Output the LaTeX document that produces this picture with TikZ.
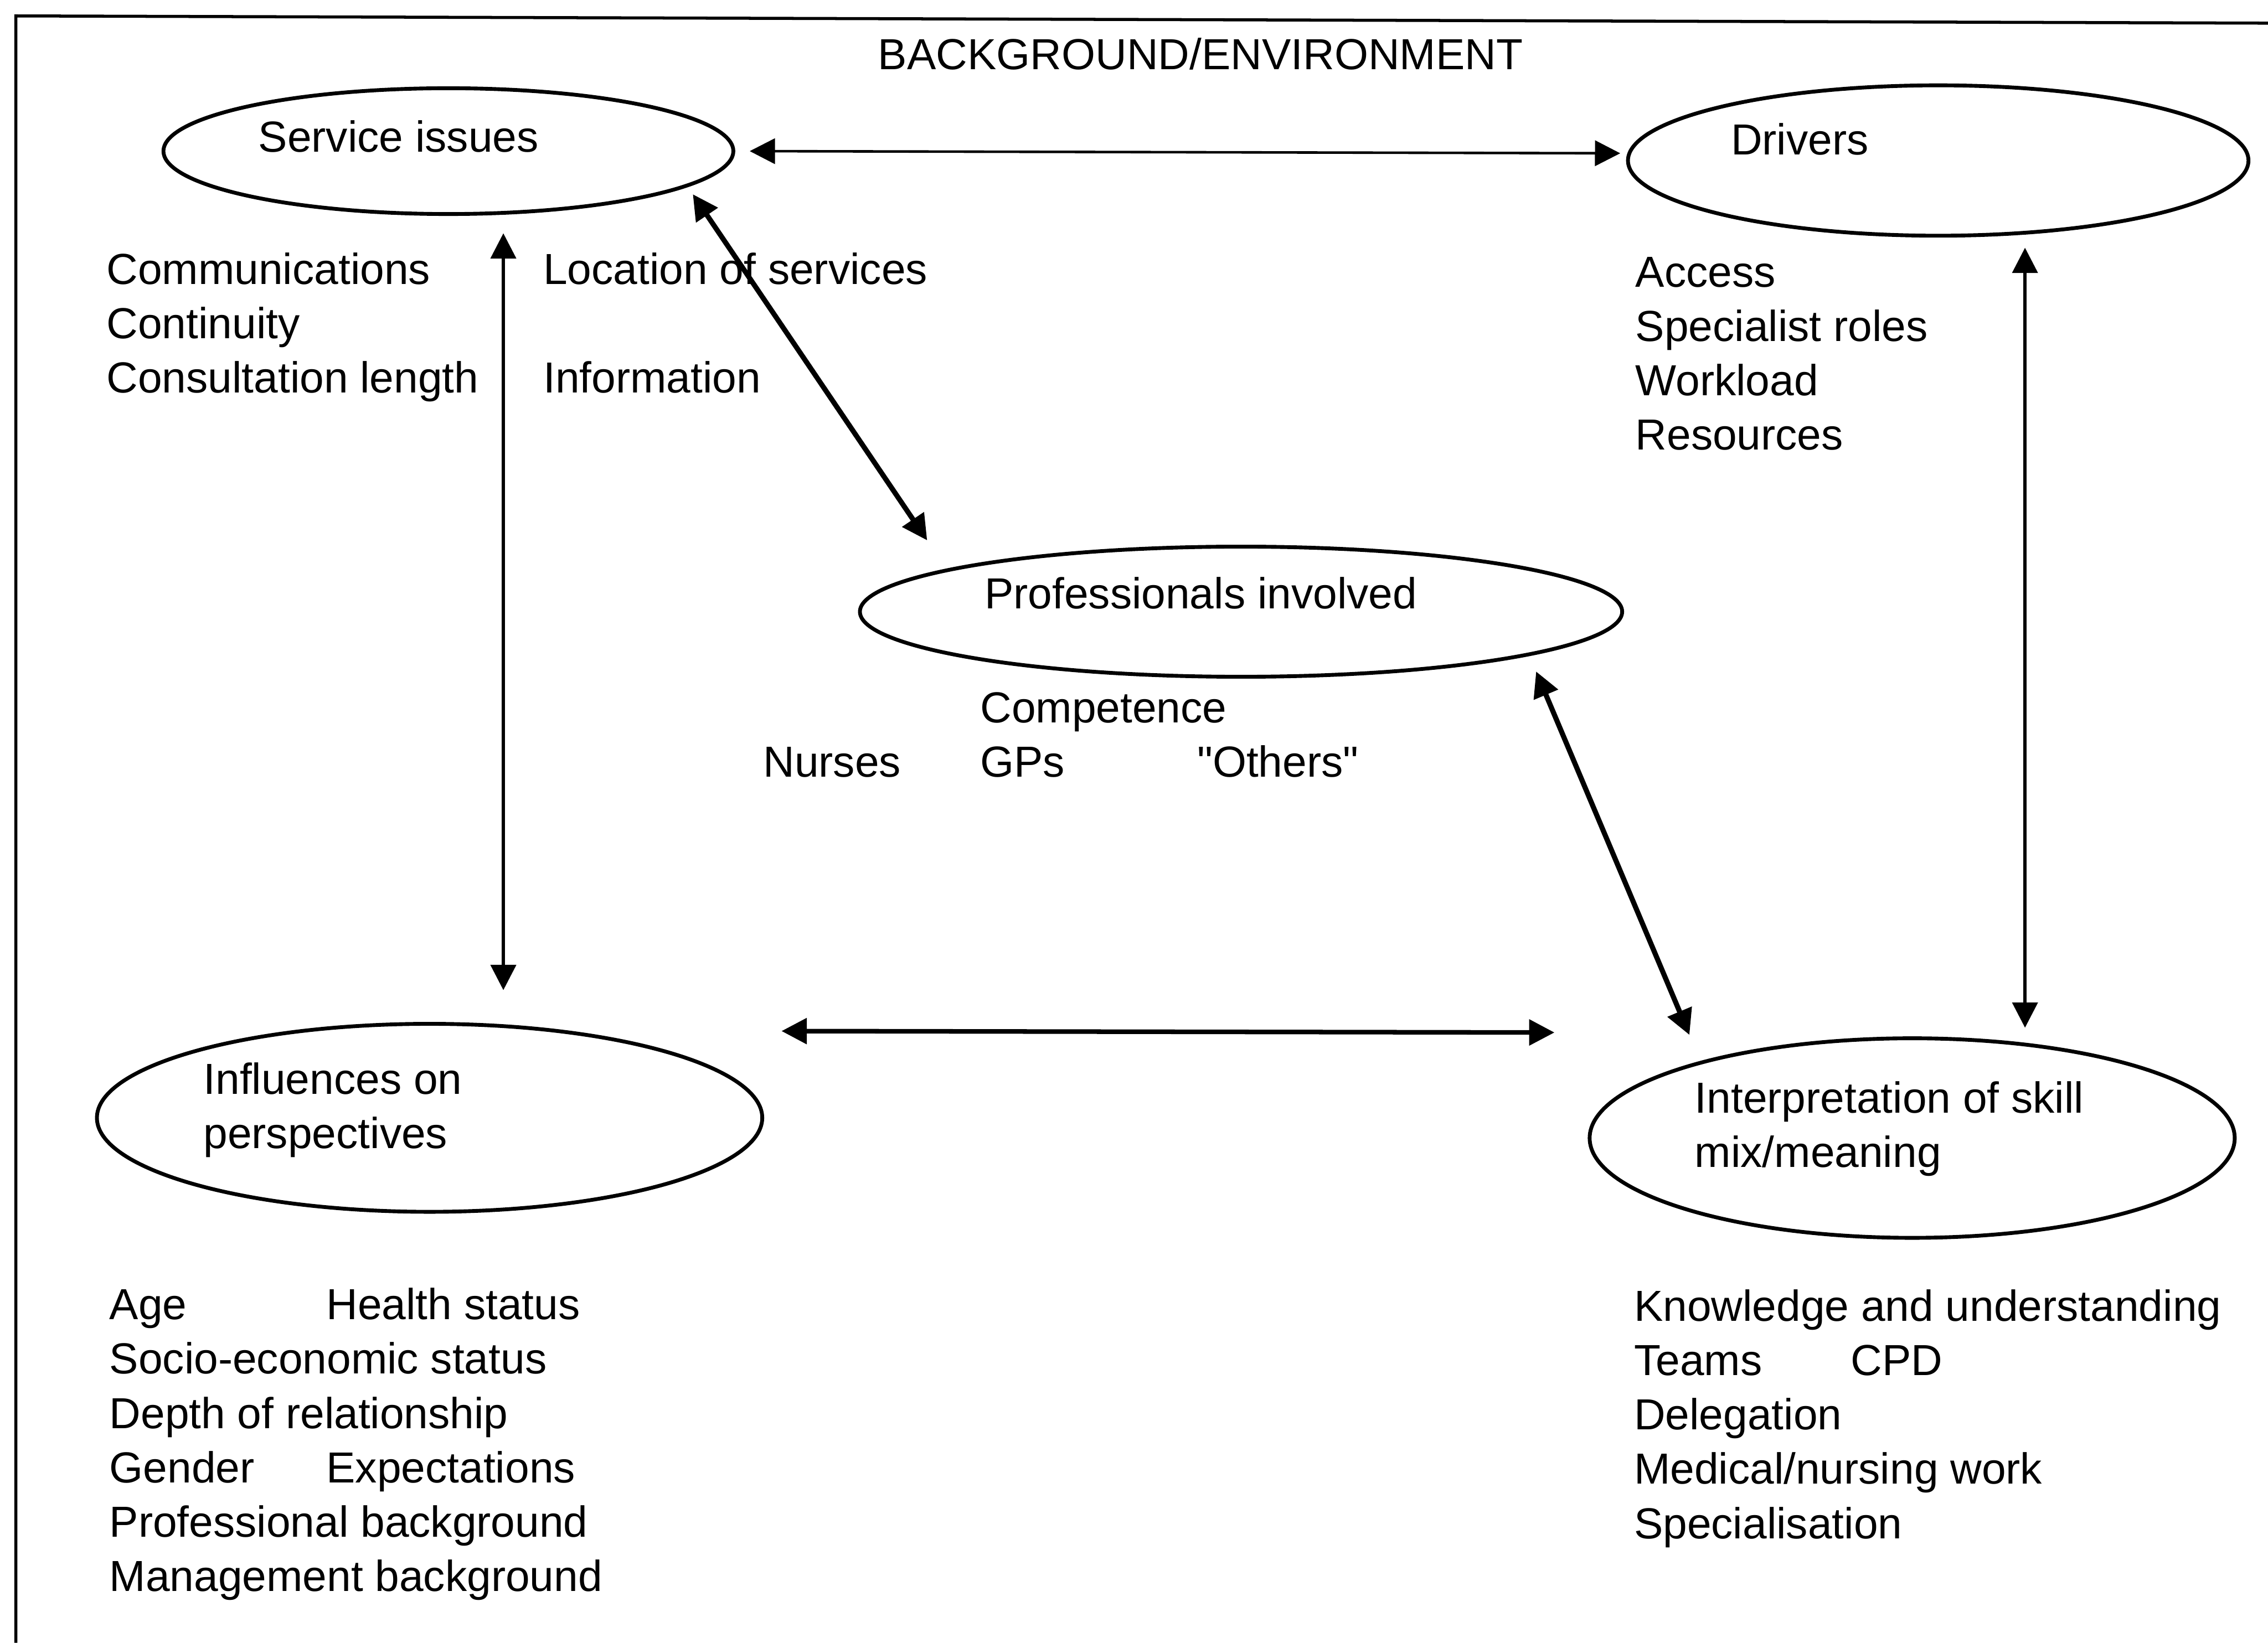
\documentclass[tikz,border=0pt]{standalone}
\usepackage{fontspec}
\setmainfont{Liberation Sans}
\usetikzlibrary{arrows.meta,calc,shapes.geometric}
\newcommand\strq{\XeTeXglyph\XeTeXcharglyph"22\relax}

\begin{document}
\begin{tikzpicture}[x=0.1mm,y=-0.1mm,>={Triangle[length=1.75mm,width=1.75mm]},
  ell/.style={draw,ellipse,line width=0.75pt,inner sep=0pt},
  txt/.style={anchor=base west,inner sep=0pt,font=\fontsize{8.55}{10.7}\selectfont},
  lst/.style={anchor=north west,inner sep=0pt,align=left,font=\fontsize{8.55}{10.7}\selectfont}]
\useasboundingbox (0,0) rectangle (1568,1136);
\draw[line width=0.6pt] (11,1136) -- (11,11) -- (1568,16);
\node[txt,anchor=base] (bg) at (830,48) {BACKGROUND/ENVIRONMENT};
% ellipses
\node[ell,minimum width=39.4mm,minimum height=8.7mm] (serv) at (310,104.5) {};
\node[ell,minimum width=42.9mm,minimum height=10.4mm] (drv) at (1340,111) {};
\node[ell,minimum width=52.7mm,minimum height=9mm] (prof) at (858,423) {};
\node[ell,minimum width=46mm,minimum height=13mm] (infl) at (297,773) {};
\node[ell,minimum width=44.6mm,minimum height=13.8mm] (interp) at (1322,787) {};
\node[txt] (servtxt) at (178,105) {Service issues};
\node[txt] (drvtxt) at (1196,107) {Drivers};
\node[txt] (proftxt) at (680,421) {Professionals involved};
\node[lst] (infltxt) at (140,734) {Influences on\\perspectives};
\node[lst] (interptxt) at (1171,747) {Interpretation of skill\\mix/meaning};
% lists
\node[lst] (servlist) at (73,174) {\makebox[30.2mm][l]{Communications}Location of services\\
  Continuity\\\makebox[30.2mm][l]{Consultation length}Information};
\node[lst] (drvlist) at (1130,177) {Access\\Specialist roles\\Workload\\Resources};
\node[lst] (proflist) at (527,478) {\makebox[15mm][l]{}Competence\\
  \makebox[15mm][l]{Nurses}\makebox[15mm][l]{GPs}\strq Others\strq};
\node[lst] (infllist) at (75,890) {\makebox[15mm][l]{Age}Health status\\Socio-economic status\\
  Depth of relationship\\\makebox[15mm][l]{Gender}Expectations\\Professional background\\
  Management background};
\node[lst] (interplist) at (1129,891) {Knowledge and understanding\\\makebox[15mm][l]{Teams}CPD\\
  Delegation\\Medical/nursing work\\Specialisation};
% arrows
\draw[<->,line width=0.5pt] ($(serv.east)+(10,0)$) -- ($(drv.west)+(-4,-5)$);
\draw[<->,line width=0.6pt] ($(serv.south)+(38,12)$) -- ($(infl.north)+(51,-22)$);
\draw[<->,line width=1pt] ($(serv.south)+(169,-15)$) -- ($(prof.north)+(-217,-3)$);
\draw[<->,line width=0.6pt] ($(drv.south)+(60,7)$) -- ($(interp.north)+(78,-6)$);
\draw[<->,line width=1pt] ($(prof.south)+(204,-5)$) -- ($(interp.north)+(-154,-1)$);
\draw[<->,line width=0.9pt] ($(infl.east)+(12,-60)$) -- ($(interp.west)+(-23,-73)$);
\end{tikzpicture}
\end{document}
